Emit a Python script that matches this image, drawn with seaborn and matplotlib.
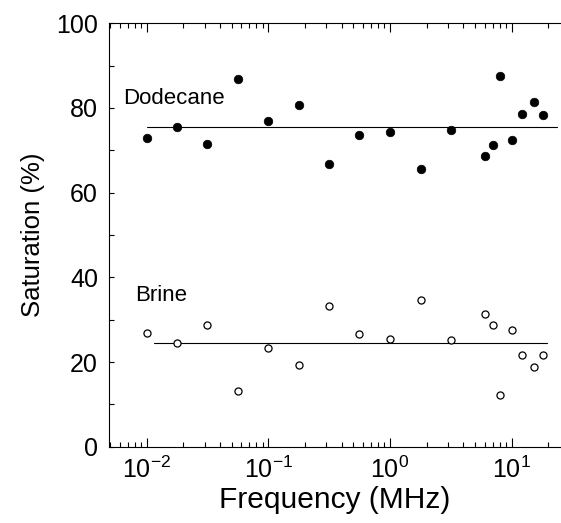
import numpy as np
import pandas as pd
import matplotlib
matplotlib.use("Agg")
import matplotlib.pyplot as plt
from matplotlib.ticker import LogLocator, MultipleLocator, NullFormatter
import seaborn as sns

# Data
freq = [0.01, 0.0178, 0.0316, 0.056, 0.1, 0.178, 0.316, 0.56, 1.0, 1.79,
        3.18, 6.0, 7.0, 8.0, 10.0, 12.1, 15.2, 18.0]
dodecane = [73.0, 75.4, 71.4, 86.9, 76.9, 80.8, 66.8, 73.5, 74.3, 65.5,
            74.9, 68.7, 71.3, 87.6, 72.4, 78.6, 81.3, 78.3]
brine = [26.9, 24.6, 28.7, 13.1, 23.3, 19.3, 33.2, 26.6, 25.5, 34.6,
         25.2, 31.3, 28.7, 12.2, 27.6, 21.6, 18.8, 21.7]

# mean lines (start/end frequency, level)
dodecane_line_x = [0.01, 23.6]
dodecane_line_y = [75.5, 75.5]
brine_line_x = [0.0115, 19.7]
brine_line_y = [24.6, 24.6]

sns.set_style("ticks")
plt.rcParams['font.family'] = ['Liberation Sans', 'DejaVu Sans']
plt.rcParams['mathtext.fontset'] = 'custom'
plt.rcParams['mathtext.rm'] = 'Liberation Sans'
plt.rcParams['mathtext.it'] = 'Liberation Sans'
plt.rcParams['axes.unicode_minus'] = False
plt.rcParams['text.color'] = 'black'
plt.rcParams['axes.labelcolor'] = 'black'
plt.rcParams['xtick.color'] = 'black'
plt.rcParams['ytick.color'] = 'black'
plt.rcParams['axes.edgecolor'] = 'black'

df = pd.DataFrame({"freq": freq, "dodecane": dodecane, "brine": brine})

fig = plt.figure(figsize=(5.61, 5.23), dpi=100)
ax = fig.add_axes([0.1943, 0.1459, 0.8057, 0.8096])
ax.set_xscale("log")

sns.scatterplot(data=df, x="freq", y="dodecane", ax=ax, color="black",
                s=38, edgecolor="black", linewidth=0.5, zorder=3)
sns.scatterplot(data=df, x="freq", y="brine", ax=ax, facecolor="white",
                s=26, edgecolor="black", linewidth=0.9, zorder=3)

sns.lineplot(x=dodecane_line_x, y=dodecane_line_y, ax=ax, color="black",
             linewidth=0.8, estimator=None)
sns.lineplot(x=brine_line_x, y=brine_line_y, ax=ax, color="black",
             linewidth=0.8, estimator=None)

ax.text(0.00645, 82.3, "Dodecane", fontsize=16, va="center", ha="left")
ax.text(0.00805, 35.8, "Brine", fontsize=16, va="center", ha="left")

ax.set_xlim(10 ** -2.309, 10 ** 1.406)
ax.set_ylim(0, 100)

ax.xaxis.set_major_locator(LogLocator(base=10, numticks=10))
ax.xaxis.set_minor_locator(LogLocator(base=10, subs=np.arange(2, 10), numticks=20))
ax.xaxis.set_minor_formatter(NullFormatter())
ax.yaxis.set_major_locator(MultipleLocator(20))
ax.yaxis.set_minor_locator(MultipleLocator(10))

ax.tick_params(axis="x", which="both", direction="in", top=True, bottom=True,
               labelsize=18, pad=7, width=0.8)
ax.tick_params(axis="x", which="major", length=6.5)
ax.tick_params(axis="x", which="minor", length=3.5)
ax.tick_params(axis="y", which="both", direction="in", left=True, right=False,
               labelsize=18, pad=8, width=0.8, length=3.6)

for side in ["left", "bottom", "top"]:
    ax.spines[side].set_linewidth(0.8)
ax.spines["right"].set_visible(False)

ax.set_xlabel("Frequency (MHz)", fontsize=21.5, labelpad=2)
ax.set_ylabel("Saturation (%)", fontsize=18.5, labelpad=8)

fig.savefig("out.png", dpi=100)
